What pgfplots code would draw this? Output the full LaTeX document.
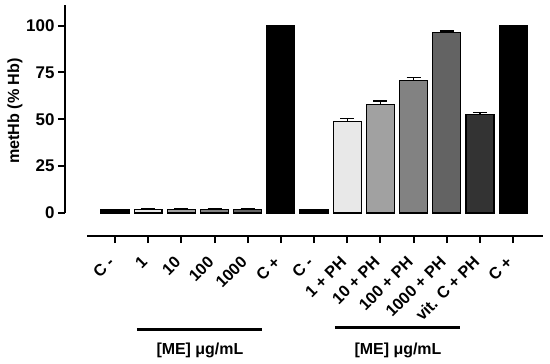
\documentclass[border=0pt]{standalone}
\usepackage{pgfplots}
\pgfplotsset{compat=1.18}
\usepackage{fontspec}
\setmainfont{Liberation Sans}
\begin{document}
\begin{tikzpicture}
\begin{axis}[
  at={(65bp,128bp)}, anchor=south west,
  scale only axis, width=478bp, height=231bp,
  xmin=-1.506, xmax=12.9, ymin=-12.3, ymax=111,
  clip=false,
  axis x line*=bottom, axis y line*=left,
  x axis line style={line width=2bp, shorten <=22bp},
  y axis line style={line width=2bp, shorten <=23bp},
  every tick/.style={line width=2bp, black},
  tick align=outside, major tick length=7bp,
  ytick={0,25,50,75,100},
  xtick={0,...,12},
  xticklabels={C -,1,10,100,1000,C +,C -,1 + PH,10 + PH,100 + PH,1000 + PH,vit. C + PH,C +},
  yticklabel style={font=\bfseries\fontsize{17}{17}\selectfont, /pgf/number format/assume math mode=true},
  xticklabel style={font=\bfseries\fontsize{16.3}{16.3}\selectfont, rotate=45, anchor=north east, inner sep=0pt, yshift=-3bp, xshift=-14bp},
  ylabel={metHb (\% Hb)},
  ylabel style={font=\bfseries\fontsize{16.2}{16.2}\selectfont, at={(axis description cs:-0.1046,0.541)}, anchor=center},
  barst/.style={ybar, bar width=0.84, bar shift=0pt, draw=black, line width=1.3bp},
  errst/.style={barst,
    error bars/y dir=plus, error bars/y explicit,
    error bars/error bar style={line width=1.3bp, black},
    error bars/error mark options={line width=1.3bp, mark size=7bp, rotate=90, black}},
]
\addplot[barst, fill=black] coordinates {(0,1.5) (6,1.5)};
\addplot[barst, fill=black] coordinates {(5,100) (12,100)};
\addplot[errst, fill=black!9] coordinates {(1,1.8) +- (0,0.5) (7,48.7) +- (0,1.7)};
\addplot[errst, fill=black!37] coordinates {(2,1.8) +- (0,0.5) (8,57.8) +- (0,1.9)};
\addplot[errst, fill=black!49] coordinates {(3,1.8) +- (0,0.5) (9,70.6) +- (0,1.6)};
\addplot[errst, fill=black!61] coordinates {(4,1.8) +- (0,0.5) (10,96.2) +- (0,1.0)};
\addplot[errst, fill=black!80] coordinates {(11,52.6) +- (0,1.0)};
\draw[line width=3bp] (axis cs:0.66,-62.4) -- (axis cs:4.43,-62.4);
\draw[line width=3bp] (axis cs:6.63,-61.4) -- (axis cs:10.4,-61.4);
\node[font=\bfseries\fontsize{16}{16}\selectfont] at (axis cs:2.56,-73.3) {[ME] μg/mL};
\node[font=\bfseries\fontsize{16}{16}\selectfont] at (axis cs:8.53,-73.3) {[ME] μg/mL};
\end{axis}
\pgfresetboundingbox
\path[use as bounding box] (0,0) rectangle (550bp,364bp);
\end{tikzpicture}
\end{document}
